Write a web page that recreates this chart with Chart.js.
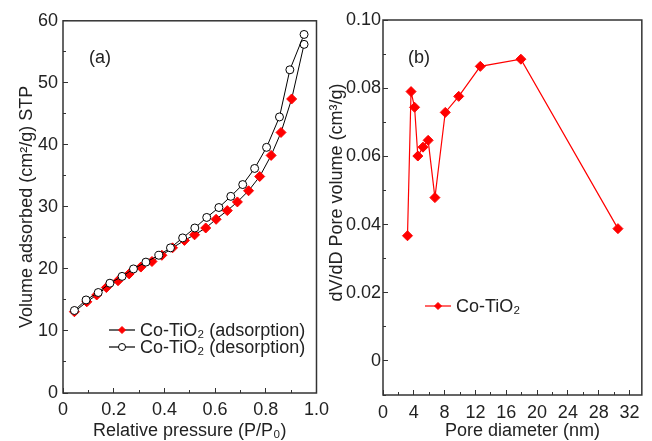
<!DOCTYPE html>
<html>
<head>
<meta charset="utf-8">
<script src="https://cdn.jsdelivr.net/npm/chart.js@4.4.1/dist/chart.umd.min.js"></script>
<style>
html, body { margin: 0; padding: 0; background: #fff; }
#wrap { position: relative; width: 652px; height: 441px; overflow: hidden; }
.box { position: absolute; top: 0; height: 441px; }
#boxA { left: 0; width: 340px; }
#boxB { left: 325px; width: 327px; }
</style>
</head>
<body>
<div id="wrap">
  <div class="box" id="boxA"><canvas id="chartA" width="340" height="441"></canvas></div>
  <div class="box" id="boxB"><canvas id="chartB" width="327" height="441"></canvas></div>
</div>
<script>
// (a) N2 isotherm
const pressureAds = [0.045, 0.094, 0.133, 0.171, 0.217, 0.261, 0.307, 0.351, 0.390, 0.432, 0.479, 0.519, 0.563, 0.604, 0.648, 0.688, 0.732, 0.776, 0.821, 0.860, 0.902, 0.951];
const volumeAds   = [13.1, 14.7, 15.8, 17.0, 18.1, 19.2, 20.3, 21.2, 22.2, 23.4, 24.6, 25.5, 26.6, 28.0, 29.4, 30.8, 32.6, 34.9, 38.3, 42.0, 47.4, 56.2];
const pressureDes = [0.951, 0.895, 0.854, 0.803, 0.756, 0.709, 0.662, 0.615, 0.567, 0.520, 0.472, 0.424, 0.378, 0.327, 0.278, 0.233, 0.185, 0.139, 0.091, 0.045];
const volumeDes   = [57.8, 52.1, 44.5, 39.6, 36.2, 33.6, 31.7, 29.9, 28.3, 26.6, 25.0, 23.4, 22.2, 21.1, 20.0, 18.8, 17.7, 16.2, 15.0, 13.3];
// (b) pore size distribution
const poreDiameter = [3.18, 3.64, 4.10, 4.52, 5.19, 5.86, 6.74, 8.08, 9.83, 12.63, 17.9, 30.5];
const poreVolume   = [0.0367, 0.0790, 0.0744, 0.0601, 0.0627, 0.0647, 0.0479, 0.0729, 0.0776, 0.0864, 0.0885, 0.0388];

const seriesNames = ['Co-TiO\u2082 (adsorption)', 'Co-TiO\u2082 (desorption)', 'Co-TiO\u2082'];

const RED = '#ff0000';
const INK = '#222';
const FRAME = '#333';

Chart.defaults.font.family = '"Liberation Sans", Arial, Helvetica, sans-serif';
Chart.defaults.font.size = 18;
Chart.defaults.color = INK;
Chart.defaults.animation = false;

function toXY(xs, ys) {
  return xs.map((x, i) => ({x: x, y: ys[i]}));
}

function drawMarker(ctx, style, x, y, r, fill, stroke) {
  ctx.save();
  ctx.beginPath();
  if (style === 'rectRot') {
    ctx.moveTo(x, y - r); ctx.lineTo(x + r, y); ctx.lineTo(x, y + r); ctx.lineTo(x - r, y); ctx.closePath();
  } else {
    ctx.arc(x, y, r, 0, Math.PI * 2);
  }
  ctx.fillStyle = fill; ctx.fill();
  ctx.lineWidth = 1; ctx.strokeStyle = stroke; ctx.stroke();
  ctx.restore();
}

// frame, panel tag and legend
function panelPlugin(tag, tagX, rows) {
  return {
    id: 'panel' + tag,
    afterDraw(chart) {
      const {ctx, chartArea: a} = chart;
      ctx.save();
      ctx.strokeStyle = FRAME; ctx.lineWidth = 1.5;
      ctx.strokeRect(a.left, a.top, a.right - a.left, a.bottom - a.top);
      ctx.fillStyle = INK;
      ctx.font = '18px "Liberation Sans", Arial, sans-serif';
      ctx.textBaseline = 'middle';
      ctx.textAlign = 'center';
      ctx.fillText(tag, tagX, 58);
      ctx.textAlign = 'left';
      rows.forEach(r => {
        ctx.beginPath();
        ctx.strokeStyle = r.line; ctx.lineWidth = 1.2;
        ctx.moveTo(r.x, r.y); ctx.lineTo(r.x + 26, r.y); ctx.stroke();
        drawMarker(ctx, r.style, r.x + 13, r.y, 3.5, r.fill, r.stroke);
        ctx.fillStyle = INK;
        ctx.fillText(r.text, r.x + 31, r.y + 1);
      });
      ctx.restore();
    }
  };
}

function mainAxis(pos, min, max, step, pad, size, title, titlePad, fmt) {
  const horiz = pos === 'bottom';
  return {
    type: 'linear', position: pos, weight: 1, min: min, max: max,
    ticks: {stepSize: step, padding: pad, autoSkip: false, maxRotation: 0, includeBounds: false, callback: fmt},
    grid: {drawOnChartArea: false, tickLength: -5, color: FRAME, lineWidth: 1},
    border: {display: false},
    title: {display: true, text: title, font: {size: 18, lineHeight: 1}, padding: titlePad},
    afterFit: s => { if (horiz) s.height = size; else s.width = size; }
  };
}

function minorAxis(pos, min, max, step) {
  const horiz = pos === 'bottom';
  return {
    type: 'linear', position: pos, weight: 0, min: min, max: max,
    ticks: {stepSize: step, display: false, autoSkip: false, includeBounds: false},
    grid: {drawOnChartArea: false, tickLength: -3, color: FRAME, lineWidth: 1},
    border: {display: false},
    afterFit: s => { if (horiz) s.height = 0; else s.width = 0; }
  };
}

const lastAds = pressureAds.length - 1;

new Chart(document.getElementById('chartA'), {
  type: 'line',
  data: {
    datasets: [
      {
        label: seriesNames[1],
        data: toXY(pressureDes, volumeDes),
        order: 0,
        borderColor: '#000', borderWidth: 1,
        pointStyle: 'circle', pointRadius: 4,
        pointBackgroundColor: '#fff', pointBorderColor: '#000', pointBorderWidth: 1
      },
      {
        label: seriesNames[0],
        data: toXY(pressureAds, volumeAds),
        order: 1,
        borderColor: '#000', borderWidth: 1,
        pointStyle: pressureAds.map((p, i) => i === lastAds ? 'circle' : 'rectRot'),
        pointRadius: pressureAds.map((p, i) => i === lastAds ? 4 : 5),
        pointBackgroundColor: pressureAds.map((p, i) => i === lastAds ? '#fff' : RED),
        pointBorderColor: pressureAds.map((p, i) => i === lastAds ? '#000' : RED),
        pointBorderWidth: 1
      }
    ]
  },
  options: {
    responsive: false,
    layout: {autoPadding: false, padding: {left: 0, right: 19, top: 20, bottom: 0}},
    plugins: {legend: {display: false}, tooltip: {enabled: false}},
    scales: {
      x: mainAxis('bottom', 0, 1, 0.2, 11, 48, 'Relative pressure (P/P\u2080)', {top: 0, bottom: 1},
        v => v === 0 ? '0' : v.toFixed(1)),
      x2: minorAxis('bottom', 0, 1, 0.1),
      y: mainAxis('left', 0, 60, 10, 10, 63, 'Volume adsorbed (cm\u00b2/g) STP', {top: 18, bottom: 0},
        v => String(v)),
      y2: minorAxis('left', 0, 60, 5)
    }
  },
  plugins: [panelPlugin('(a)', 100, [
    {x: 109, y: 330, text: seriesNames[0], style: 'rectRot', line: '#000', fill: RED, stroke: RED},
    {x: 109, y: 347, text: seriesNames[1], style: 'circle', line: '#000', fill: '#fff', stroke: '#000'}
  ])]
});

new Chart(document.getElementById('chartB'), {
  type: 'line',
  data: {
    datasets: [{
      label: seriesNames[2],
      data: toXY(poreDiameter, poreVolume),
      borderColor: RED, borderWidth: 1.2,
      pointStyle: 'rectRot', pointRadius: 5,
      pointBackgroundColor: RED, pointBorderColor: RED, pointBorderWidth: 1
    }]
  },
  options: {
    responsive: false,
    layout: {autoPadding: false, padding: {left: 0, right: 1, top: 20, bottom: 0}},
    plugins: {legend: {display: false}, tooltip: {enabled: false}},
    scales: {
      x: mainAxis('bottom', 0, 33.6, 4, 12, 46, '    Pore diameter (nm)', {top: 0, bottom: 1},
        v => String(v)),
      x2: minorAxis('bottom', 0, 33.6, 2),
      y: mainAxis('left', -0.01, 0.10, 0.02, 7, 58, '      dV/dD Pore volume (cm\u00b3/g)', {top: 3, bottom: 0},
        v => Math.abs(v) < 1e-9 ? '0' : v.toFixed(2)),
      y2: minorAxis('left', -0.01, 0.10, 0.01)
    }
  },
  plugins: [panelPlugin('(b)', 94, [
    {x: 100, y: 306, text: seriesNames[2], style: 'rectRot', line: RED, fill: RED, stroke: RED}
  ])]
});
</script>
</body>
</html>
